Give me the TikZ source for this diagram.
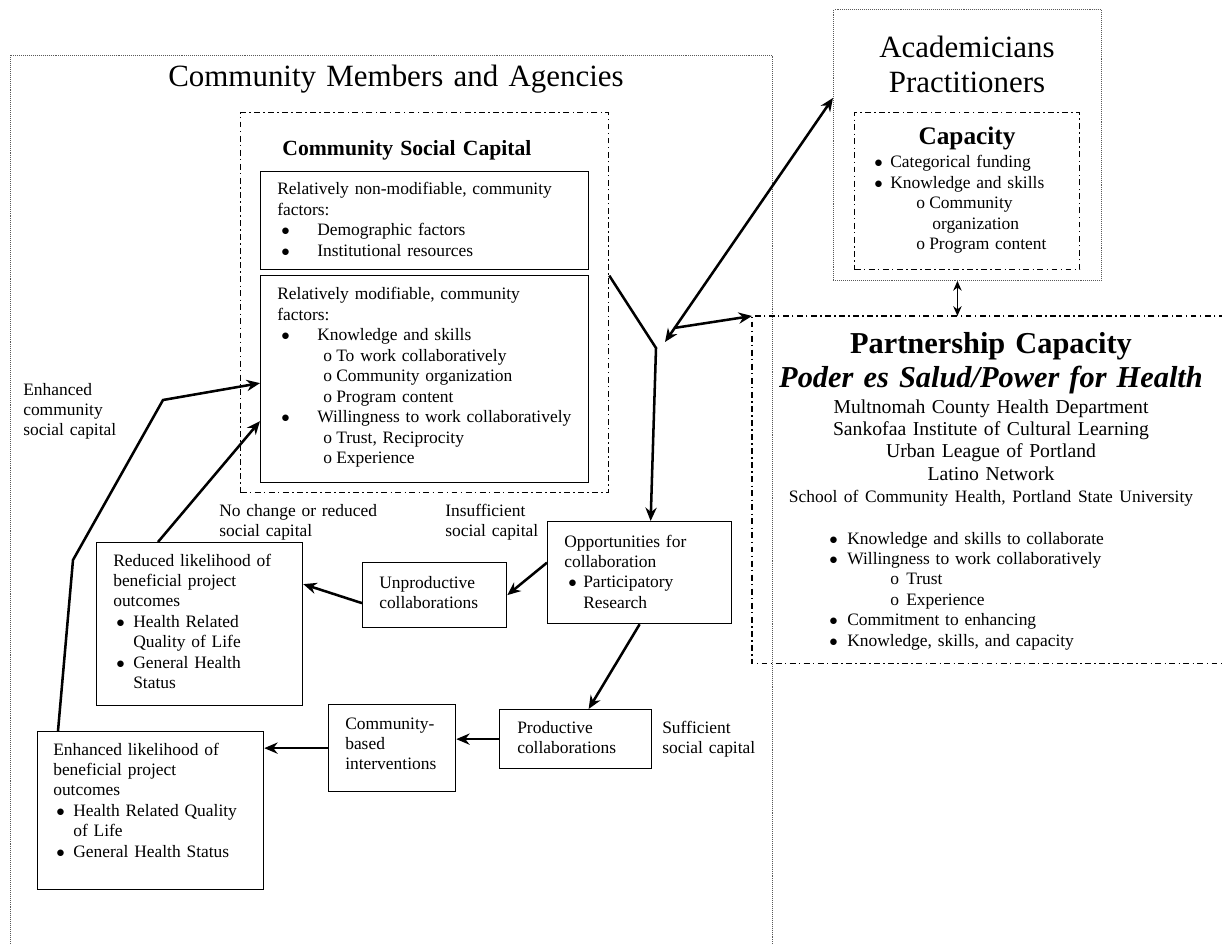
\documentclass[tikz,border=0pt]{standalone}
\usepackage{fontspec}
\setmainfont{Liberation Serif}
\usetikzlibrary{arrows.meta,calc}

\newcommand{\px}{0.025cm} % one unit of the drawing grid
% list lines: indent of the mark, room for the mark, text
\newcommand{\bul}[3]{\hspace*{#1}\makebox[#2][l]{$\bullet$}#3}
\newcommand{\sbul}[3]{\hspace*{#1}\makebox[#2][l]{o}#3}

\begin{document}
\begin{tikzpicture}[x=0.025cm, y=-0.025cm,
    box/.style={draw, line width=0.9pt, inner sep=0pt, anchor=north west},
    group/.style={inner sep=0pt, anchor=north west},
    dotline/.style={line width=0.6pt, gray!70!black, dash pattern=on 0.5pt off 0.9pt},
    dashdotline/.style={line width=0.9pt, dash pattern=on 4.2pt off 2.4pt on 1pt off 2.4pt},
    txt/.style={inner sep=0pt, text width=9cm, align=left, anchor=base west, font=\fontsize{12.4}{14.55}\selectfont},
    ctr/.style={inner sep=0pt, text width=12cm, align=center, anchor=base},
    flow/.style={line width=1.8pt, -{Stealth[length=9.5pt, width=8pt]}},
    link/.style={line width=1pt, {Stealth[length=7pt, width=6pt]}-{Stealth[length=7pt, width=6pt]}}
]
    \useasboundingbox (0,0) rectangle (1222,944);

    % Community members and agencies (open at the bottom)
    \node[group, minimum width=762*\px, minimum height=892*\px] (comm) at (10,55) {};
    \draw[dotline] (comm.south west) -- (comm.north west) -- (comm.north east) -- (comm.south east);
    \node[ctr, font=\fontsize{22}{24.8}\selectfont] (commtitle) at (396,87) {Community Members and Agencies};

    % Community social capital
    \node[group, draw, dashdotline, minimum width=368*\px, minimum height=380*\px] (csc) at (240,112) {};
    \node[ctr, font=\bfseries\fontsize{15.4}{18}\selectfont] (csctitle) at (407,156) {Community Social Capital};

    \node[box, minimum width=328*\px, minimum height=98*\px] (nonmod) at (260,171) {};
    \node[txt] (nonmodtext) at (277,195) {Relatively non-modifiable, community\\factors:\\
        \bul{0.1cm}{0.9cm}{Demographic factors}\\
        \bul{0.1cm}{0.9cm}{Institutional resources}};

    \node[box, minimum width=328*\px, minimum height=207*\px] (mod) at (260,275) {};
    \node[txt] (modtext) at (277,300) {Relatively modifiable, community\\factors:\\
        \bul{0.1cm}{0.9cm}{Knowledge and skills}\\
        \sbul{1.15cm}{0.325cm}{To work collaboratively}\\
        \sbul{1.15cm}{0.325cm}{Community organization}\\
        \sbul{1.15cm}{0.325cm}{Program content}\\
        \bul{0.1cm}{0.9cm}{Willingness to work collaboratively}\\
        \sbul{1.15cm}{0.325cm}{Trust, Reciprocity}\\
        \sbul{1.15cm}{0.325cm}{Experience}};

    % Academicians / practitioners
    \node[group, draw, dotline, minimum width=268*\px, minimum height=271*\px] (acad) at (833,9) {};
    \node[ctr, font=\fontsize{22}{24.8}\selectfont] (acadtitle) at (967,58) {Academicians\\Practitioners};

    \node[group, draw, dashdotline, minimum width=225*\px, minimum height=157*\px] (cap) at (854,112) {};
    \node[ctr, font=\bfseries\fontsize{18}{20}\selectfont] (captitle) at (967,145) {Capacity};
    \node[txt] (captext) at (874,168) {\bul{0pt}{0.4cm}{Categorical funding}\\
        \bul{0pt}{0.4cm}{Knowledge and skills}\\
        \sbul{1.05cm}{0.325cm}{Community}\\
        \hspace*{1.45cm}organization\\
        \sbul{1.05cm}{0.325cm}{Program content}};

    % Partnership capacity (open at the right)
    \node[group, minimum width=472*\px, minimum height=347*\px] (part) at (752,316) {};
    \draw[dashdotline] (part.north east) -- (part.north west) -- (part.south west) -- (part.south east);
    \node[ctr, font=\bfseries\fontsize{21.6}{24.1}\selectfont] (parttitle) at (991,354)
        {Partnership Capacity\\\textit{Poder es Salud/Power for Health}};
    \node[ctr, font=\fontsize{14}{16}\selectfont] (partorgs) at (991,413) {Multnomah County Health Department\\
        Sankofaa Institute of Cultural Learning\\
        Urban League of Portland\\
        Latino Network\\
        {\fontsize{12.4}{15}\selectfont School of Community Health, Portland State University}};
    \node[txt] (parttext) at (829,544) {\bul{0pt}{0.45cm}{Knowledge and skills to collaborate}\\
        \bul{0pt}{0.45cm}{Willingness to work collaboratively}\\
        \sbul{1.525cm}{0.4cm}{Trust}\\
        \sbul{1.525cm}{0.4cm}{Experience}\\
        \bul{0pt}{0.45cm}{Commitment to enhancing}\\
        \bul{0pt}{0.45cm}{Knowledge, skills, and capacity}};

    % Collaboration outcomes
    \node[box, minimum width=184*\px, minimum height=102*\px] (opp) at (547,521) {};
    \node[txt] (opptext) at (564,547) {Opportunities for\\collaboration\\
        \bul{0.1cm}{0.375cm}{Participatory}\\\hspace*{0.475cm}Research};

    \node[box, minimum width=144*\px, minimum height=65*\px] (unp) at (362,562) {};
    \node[txt] (unptext) at (379,588) {Unproductive\\collaborations};

    \node[box, minimum width=206*\px, minimum height=163*\px] (red) at (96,542) {};
    \node[txt] (redtext) at (113,566) {Reduced likelihood of\\beneficial project\\outcomes\\
        \bul{0.075cm}{0.425cm}{Health Related}\\\hspace*{0.5cm}Quality of Life\\
        \bul{0.075cm}{0.425cm}{General Health}\\\hspace*{0.5cm}Status};

    \node[box, minimum width=152*\px, minimum height=59*\px] (prod) at (499,709) {};
    \node[txt] (prodtext) at (517,733) {Productive\\collaborations};

    \node[box, minimum width=127*\px, minimum height=87*\px] (cbi) at (328,704) {};
    \node[txt] (cbitext) at (345,729) {Community-\\based\\interventions};

    \node[box, minimum width=226*\px, minimum height=158*\px] (enh) at (37,731) {};
    \node[txt] (enhtext) at (53,755) {Enhanced likelihood of\\beneficial project\\outcomes\\
        \bul{0.075cm}{0.425cm}{Health Related Quality}\\\hspace*{0.5cm}of Life\\
        \bul{0.075cm}{0.425cm}{General Health Status}};

    % Side labels
    \node[txt] (enhlabel) at (23,395) {Enhanced\\community\\social capital};
    \node[txt] (nochange) at (219,516) {No change or reduced\\social capital};
    \node[txt] (insuff) at (445,516) {Insufficient\\social capital};
    \node[txt] (suff) at (662,733) {Sufficient\\social capital};

    % Meeting point of the three partners
    \coordinate (hub) at (656,348);
    \coordinate (hubtip) at (665,342);
    \coordinate (hubfork) at (674,328);

    \draw[flow] ($(csc.east)+(0,-27)$) -- (hub) -- ($(opp.north)+(11,0)$);
    \draw[flow, {Stealth[length=9.5pt, width=8pt]}-{Stealth[length=9.5pt, width=8pt]}] ($(acad.west)+(0,-47)$) -- (hubtip);
    \draw[flow] (hubfork) -- (part.north west);
    \coordinate (acadlink) at ($(acad.south)+(-10,0)$);
    \draw[link] (acadlink) -- (acadlink |- part.north);

    % Arrows between the boxes
    \draw[flow] ($(opp.west)+(0,-10)$) -- (unp.east);
    \draw[flow] ($(unp.west)+(0,8)$) -- ($(red.east)+(0,-40)$);
    \draw[flow] ($(red.north west)+(62,0)$) -- ($(mod.west)+(0,42)$);
    \draw[flow] ($(enh.north west)+(21,0)$) -- (73,560) -- (163,400) -- ($(mod.west)+(0,4)$);
    \draw[flow] (opp.south) -- ($(prod.north)+(13,0)$);
    \draw[flow] (prod.west) -- (prod.west -| cbi.east);
    \draw[flow] (cbi.west) -- (cbi.west -| enh.east);
\end{tikzpicture}
\end{document}
